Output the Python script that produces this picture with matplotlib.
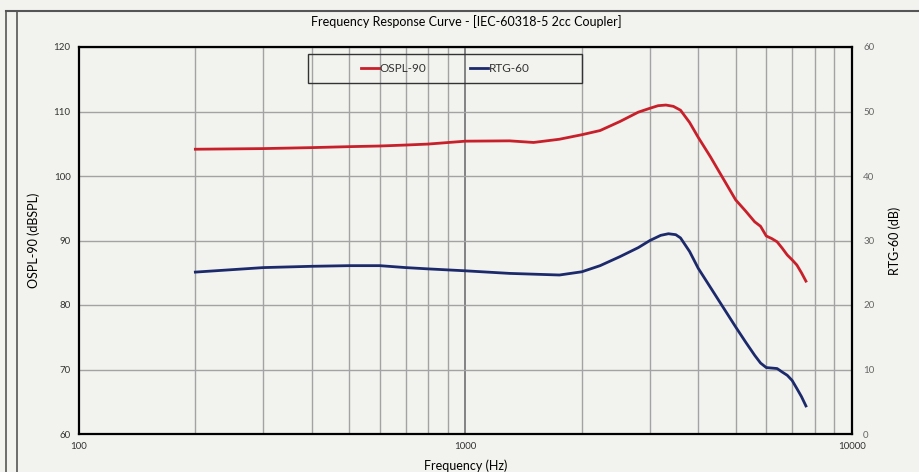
"""Frequency response of the hearing aid in the 2cc coupler: OSPL-90 and RTG-60."""

import matplotlib.pyplot as plt
from matplotlib.lines import Line2D
from matplotlib.patches import Rectangle
from matplotlib.ticker import FixedLocator, NullFormatter

BG = "#f2f2ee"
RED = "#c8202a"
NAVY = "#1c2a6b"
GRID = "#a3a3a3"

# OSPL-90 (dB SPL, left axis)
ospl_freq = [200, 300, 400, 500, 600, 700, 800, 1000, 1300, 1500, 1750, 2000, 2230,
             2510, 2800, 3000, 3150, 3300, 3450, 3600, 3800, 4000, 4300, 4600, 5000,
             5300, 5600, 5800, 6000, 6200, 6400, 6600, 6800, 7000, 7200, 7400, 7600]
ospl_db = [104.15, 104.25, 104.4, 104.55, 104.65, 104.8, 104.95, 105.4, 105.45, 105.2,
           105.7, 106.4, 107.05, 108.45, 109.9, 110.5, 110.9, 111.0, 110.8, 110.2,
           108.3, 106.0, 103.0, 100.0, 96.3, 94.6, 92.9, 92.2, 90.7, 90.3, 89.8, 88.8,
           87.75, 87.0, 86.2, 85.0, 83.7]

# RTG-60 (dB, right axis)
rtg_freq = [200, 300, 400, 500, 600, 700, 800, 1000, 1300, 1750, 2000, 2230, 2510,
            2800, 3000, 3200, 3350, 3500, 3600, 3800, 4000, 4500, 5000, 5300, 5600,
            5800, 6000, 6400, 6600, 6800, 7000, 7200, 7400, 7600]
rtg_db = [25.1, 25.8, 26.0, 26.1, 26.1, 25.8, 25.6, 25.3, 24.9, 24.65, 25.15, 26.1,
          27.5, 28.9, 30.0, 30.8, 31.05, 30.9, 30.4, 28.3, 25.7, 20.9, 16.6, 14.3, 12.2,
          11.0, 10.3, 10.15, 9.6, 9.1, 8.3, 7.05, 5.8, 4.35]

plt.rcParams.update({"font.family": ["Lato", "DejaVu Sans"], "font.size": 7.5})

fig = plt.figure(figsize=(9.2, 4.72), dpi=100, facecolor=BG)
ax = fig.add_axes([79 / 920, 38 / 472, 773 / 920, 387 / 472])
ax.set_facecolor(BG)

ax.set_xscale("log")
ax.set_xlim(100, 10000)
ax.set_ylim(60, 120)
ax.xaxis.set_major_locator(FixedLocator([100, 1000, 10000]))
ax.xaxis.set_minor_locator(FixedLocator([m * d for d in (100, 1000) for m in range(2, 10)]))
ax.xaxis.set_minor_formatter(NullFormatter())
ax.set_xticklabels(["100", "1000", "10000"])
ax.set_yticks(range(60, 121, 10))

ax.grid(True, which="major", axis="y", color=GRID, lw=1.0)
ax.grid(True, which="minor", axis="x", color=GRID, lw=1.0)
ax.axvline(1000, color="#7a7a7a", lw=1.3, zorder=0.5)
ax.set_axisbelow(True)

ax.tick_params(which="both", length=0, pad=6, colors="#333333", labelsize=7)
for side in ("left", "bottom", "top", "right"):
    ax.spines[side].set_color("black")
    ax.spines[side].set_linewidth(1.6)

ax.plot(ospl_freq, ospl_db, color=RED, lw=2.0, label="OSPL-90", zorder=3,
        solid_joinstyle="round")

ax2 = ax.twinx()
ax2.set_ylim(0, 60)
ax2.set_yticks(range(0, 61, 10))
ax2.tick_params(length=0, pad=8, colors="#666666", labelsize=7)
for side in ("left", "bottom", "top", "right"):
    ax2.spines[side].set_visible(False)
ax2.plot(rtg_freq, rtg_db, color=NAVY, lw=2.0, label="RTG-60", zorder=3,
         solid_joinstyle="round")

ax.set_xlabel("Frequency (Hz)", fontsize=9, labelpad=6)
ax.set_ylabel("OSPL-90 (dBSPL)", fontsize=9, labelpad=10)
ax2.set_ylabel("RTG-60 (dB)", fontsize=9, labelpad=10)
fig.text(466 / 920, 1 - 22 / 472, "Frequency Response Curve - [IEC-60318-5 2cc Coupler]",
         ha="center", va="center", fontsize=9)

# legend: unframed entries inside a drawn box
handles = [Line2D([], [], color=RED, lw=2), Line2D([], [], color=NAVY, lw=2)]
leg = ax.legend(handles, ["OSPL-90", "RTG-60"], ncol=2, loc="center",
                bbox_to_anchor=(0.5 - 0.026, 0.944), frameon=False,
                handlelength=1.5, handletextpad=0.1, columnspacing=3.7, fontsize=8.5)
for t in leg.get_texts():
    t.set_color("#333333")
ax.add_patch(Rectangle((0.296, 0.907), 0.355, 0.075, transform=ax.transAxes,
                       facecolor="none", edgecolor="#333333", lw=1.0, zorder=4))

# chart area border
fig.add_artist(Line2D([6 / 920, 1], [1 - 11 / 472] * 2, color="#555555", lw=1.5))
fig.add_artist(Line2D([6 / 920] * 2, [0, 1 - 11 / 472], color="#555555", lw=1.2))
fig.add_artist(Line2D([17 / 920] * 2, [0, 1 - 12 / 472], color="#555555", lw=1.2))

fig.savefig("out.png", dpi=100, facecolor=BG)
